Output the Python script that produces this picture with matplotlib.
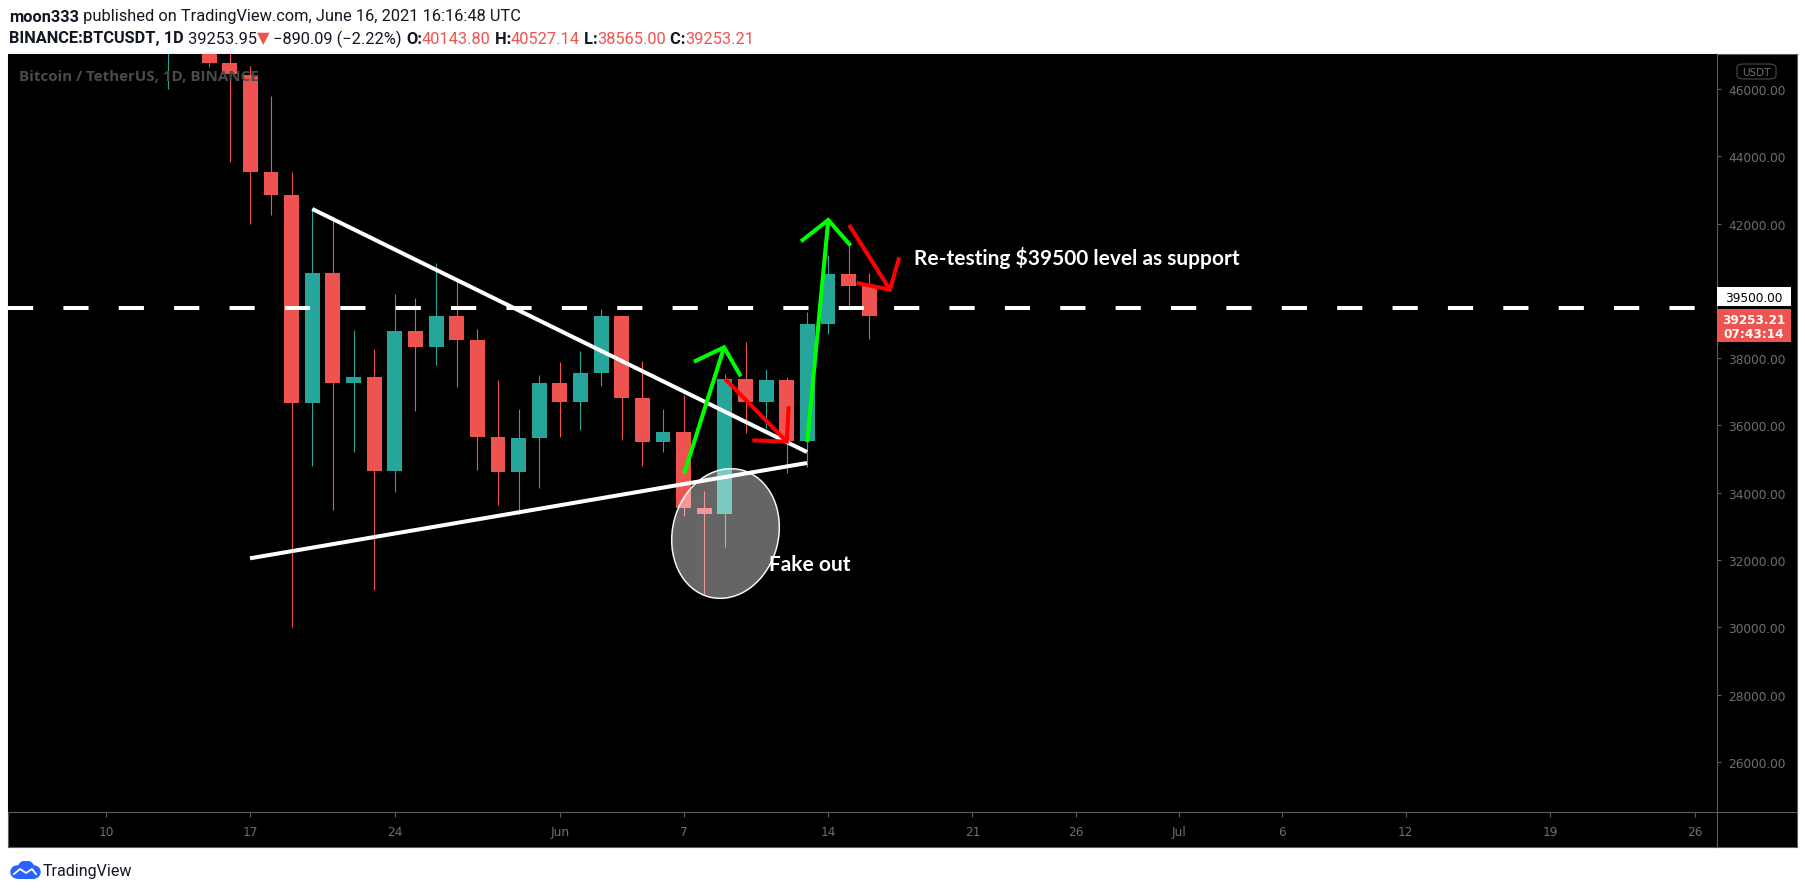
import numpy as np
import matplotlib
matplotlib.use('Agg')
import matplotlib.pyplot as plt
from matplotlib.patches import Ellipse, Rectangle, FancyBboxPatch, Circle
from matplotlib.lines import Line2D
from matplotlib.transforms import ScaledTranslation

# daily candles, BINANCE:BTCUSDT
dates = ['2021-05-13', '2021-05-14', '2021-05-15', '2021-05-16', '2021-05-17', '2021-05-18',
         '2021-05-19', '2021-05-20', '2021-05-21', '2021-05-22', '2021-05-23', '2021-05-24',
         '2021-05-25', '2021-05-26', '2021-05-27', '2021-05-28', '2021-05-29', '2021-05-30',
         '2021-05-31', '2021-06-01', '2021-06-02', '2021-06-03', '2021-06-04', '2021-06-05',
         '2021-06-06', '2021-06-07', '2021-06-08', '2021-06-09', '2021-06-10', '2021-06-11',
         '2021-06-12', '2021-06-13', '2021-06-14', '2021-06-15', '2021-06-16']
opens = [49537, 49671, 49844, 46762, 46426, 43538, 42850, 36671, 40526, 37252, 37449, 34655,
         38796, 38324, 39241, 38529, 35664, 34605, 35641, 37254, 36694, 37568, 39246, 36829,
         35513, 35796, 33552, 33380, 37389, 36694, 37341, 35546, 39020, 40516, 40143.80]
highs = [51367, 51483, 50700, 49795, 46686, 45799, 43546, 42451, 42200, 38831, 38270, 39920,
         39791, 40841, 40300, 38877, 37338, 36488, 37499, 37895, 38225, 39476, 39289, 37916,
         36476, 36900, 34068, 37534, 38490, 37680, 37437, 39380, 41065, 41330, 40527.14]
lows = [46000, 48800, 46650, 43825, 42001, 42250, 30000, 34800, 33488, 35200, 31111, 34031,
        36419, 37800, 37134, 34684, 33633, 33379, 34153, 35666, 35880, 37170, 35556, 34800,
        35200, 33300, 31000, 32397, 35782, 35936, 34600, 34757, 38730, 39506, 38565.00]
closes = [49671, 49841, 46762, 46431, 43538, 42850, 36671, 40526, 37252, 37449, 34655, 38796,
          38324, 39241, 38529, 35664, 34605, 35641, 37254, 36694, 37568, 39246, 36829, 35513,
          35796, 33552, 33380, 37389, 36694, 37341, 35546, 39020, 40516, 40144, 39253.21]

base_date = '2021-05-10'
tick_dates = ['2021-05-10', '2021-05-17', '2021-05-24', '2021-06-01', '2021-06-07', '2021-06-14',
              '2021-06-21', '2021-06-26', '2021-07-01', '2021-07-06', '2021-07-12', '2021-07-19',
              '2021-07-26']
tick_labels = ['10', '17', '24', 'Jun', '7', '14', '21', '26', 'Jul', '6', '12', '19', '26']
price_ticks = [26000, 28000, 30000, 32000, 34000, 36000, 38000, 40000, 42000, 44000, 46000]

support = 39500
# drawings: x in days after base_date, y in price
upper_line_x = [10.0, 33.98]
upper_line_y = [42434, 35212]
lower_line_x = [6.98, 33.98]
lower_line_y = [32053, 34886]
green1_x = [28.02, 29.96, 28.50, 29.96, 30.77]
green1_y = [34559, 38324, 37896, 38324, 37462]
red1_x = [30.00, 33.00, 31.33, 33.00, 33.09]
red1_y = [37391, 35519, 35560, 35519, 36571]
green2_x = [33.99, 35.01, 33.69, 35.01, 36.10]
green2_y = [35506, 42107, 41474, 42107, 41343]
red2_x = [36.02, 38.00, 36.39, 38.00, 38.45]
red2_y = [41958, 40036, 40235, 40036, 40998]
fakeout_x, fakeout_y = 30.03, 32790

W, H = 1805, 895
UP, DOWN = '#26a69a', '#ef5350'
GRID = '#5d5d5d'
LABEL = '#6f6f6f'
DARK = '#131722'


def fx(px):
    return px / W


def fy(py):
    return 1 - py / H


fig = plt.figure(figsize=(W / 100, H / 100), dpi=100, facecolor='white')

# black panel with frame
panel = fig.add_axes([fx(8), fy(848), (1797 - 8) / W, (848 - 55) / H])
panel.set_facecolor('black')
panel.set_xticks([])
panel.set_yticks([])
for s in panel.spines.values():
    s.set_color(GRID)
    s.set_linewidth(0.8)

ax = fig.add_axes([fx(8), fy(813), (1717 - 8) / W, (813 - 55) / H])
ax.set_facecolor('black')
for s in ax.spines.values():
    s.set_visible(False)

x = (np.array(dates, dtype='datetime64[D]') - np.datetime64(base_date)).astype(int)
o, hi, lo, c = map(np.array, (opens, highs, lows, closes))
col = np.where(c >= o, UP, DOWN)
ax.vlines(x, lo, hi, colors=col, lw=0.8, zorder=2)
ax.bar(x, np.maximum(np.abs(c - o), 25), bottom=np.minimum(o, c), width=0.72,
       color=col, linewidth=0, zorder=3)

ax.set_xlim(-4.75, 78.09)
ax.set_ylim(24514, 47040)

tx = (np.array(tick_dates, dtype='datetime64[D]') - np.datetime64(base_date)).astype(int)
ax.set_xticks(tx)
ax.set_xticklabels(tick_labels)
ax.set_yticks(price_ticks)
ax.set_yticklabels(['%.2f' % p for p in price_ticks])
ax.yaxis.tick_right()
ax.tick_params(axis='y', colors=GRID, labelcolor=LABEL, length=3, width=0.8, pad=5, labelsize=8.7)
ax.tick_params(axis='x', colors=GRID, labelcolor=LABEL, length=3.6, width=0.8, pad=6, labelsize=8.7)

# support level
ax.axhline(support, color='white', lw=2.9, dashes=(25 / 4, 30 / 4), dash_capstyle='butt', zorder=5)

# triangle
ax.plot(upper_line_x, upper_line_y, color='white', lw=2.9, solid_capstyle='butt', zorder=5)
ax.plot(lower_line_x, lower_line_y, color='white', lw=2.9, solid_capstyle='butt', zorder=5)

# fake out circle
ell = Ellipse((0, 0), 1.06, 1.31, angle=-14, facecolor=(1, 1, 1, 0.4), edgecolor=(1, 1, 1, 0.95),
              lw=1.1, zorder=4,
              transform=fig.dpi_scale_trans + ScaledTranslation(fakeout_x, fakeout_y, ax.transData))
ax.add_patch(ell)

for xs, ys, colr in [(green1_x, green1_y, '#00ff00'), (red1_x, red1_y, '#ff0000'),
                     (green2_x, green2_y, '#00ff00'), (red2_x, red2_y, '#ff0000')]:
    ax.plot(xs[:2], ys[:2], color=colr, lw=2.9, solid_capstyle='butt', zorder=6)
    ax.plot(xs[2:], ys[2:], color=colr, lw=2.9, solid_capstyle='butt', solid_joinstyle='miter', zorder=6)

ax.text(32.14, 31884, 'Fake out', color='white', fontsize=15, fontweight='bold', family='Lato',
        va='center', ha='left', zorder=7)
ax.text(39.17, 40999, 'Re-testing $39500 level as support', color='white', fontsize=15,
        fontweight='bold', family='Lato', va='center', ha='left', zorder=7)

# separators
fig.add_artist(Line2D([fx(1717), fx(1717)], [fy(55), fy(848)], color=GRID, lw=0.8))
fig.add_artist(Line2D([fx(8), fx(1797)], [fy(813), fy(813)], color=GRID, lw=0.8))

# watermark
fig.text(fx(19), fy(77), 'Bitcoin / TetherUS, 1D, BINANCE', color='#4b4b4b', fontsize=10.9,
         fontweight='bold', family='Open Sans', va='center', ha='left')

# price axis labels
fig.add_artist(FancyBboxPatch((fx(1737), fy(80)), (1776 - 1737) / W, 15 / H,
                              boxstyle='round,pad=0,rounding_size=0.004', facecolor='black',
                              edgecolor='#4a4a4a', lw=0.8, transform=fig.transFigure))
fig.text(fx(1756.5), fy(72.5), 'USDT', color=LABEL, fontsize=7.5, ha='center', va='center')

fig.add_artist(Rectangle((fx(1717), fy(307)), 74 / W, 19 / H, facecolor='white',
                         edgecolor='none', transform=fig.transFigure, zorder=5))
fig.text(fx(1754), fy(298), '%.2f' % support, color='black', fontsize=8.7, ha='center',
         va='center', zorder=6)
fig.add_artist(Rectangle((fx(1717), fy(343)), 74 / W, 33 / H, facecolor=DOWN,
                         edgecolor='none', transform=fig.transFigure, zorder=5))
fig.text(fx(1754), fy(320), '%.2f' % closes[-1], color='white', fontsize=8.7, fontweight='bold',
         ha='center', va='center', zorder=6)
fig.text(fx(1754), fy(335), '07:43:14', color='white', fontsize=8.7, fontweight='bold',
         ha='center', va='center', zorder=6)

# header
renderer = fig.canvas.get_renderer()


def runs(px, py, parts, size):
    for s, colr, weight in parts:
        t = fig.text(fx(px), fy(py), s, color=colr, fontsize=size, fontweight=weight,
                     family=['Roboto', 'DejaVu Sans'], va='center', ha='left')
        px += t.get_window_extent(renderer).width


runs(9, 17, [('moon333', DARK, 'bold'),
             (' published on TradingView.com, June 16, 2021 16:16:48 UTC', DARK, 'normal')], 11.8)
runs(9, 39, [('BINANCE:BTCUSDT, 1D', DARK, 'bold'), (' 39253.95', DARK, 'normal'),
             ('\u25bc', DOWN, 'normal'), (' \u2212890.09 (\u22122.22%) ', DARK, 'normal'),
             ('O:', DARK, 'bold'), ('40143.80', DOWN, 'normal'),
             (' H:', DARK, 'bold'), ('40527.14', DOWN, 'normal'),
             (' L:', DARK, 'bold'), ('38565.00', DOWN, 'normal'),
             (' C:', DARK, 'bold'), ('39253.21', DOWN, 'normal')], 11.8)

# TradingView logo
logo = fig.add_axes([fx(9), fy(880), 32 / W, 18 / H])
logo.set_xlim(0, 32)
logo.set_ylim(0, 18)
logo.axis('off')
for cx, cy, r in [(8, 7, 6), (17, 10, 8), (25, 7, 6)]:
    logo.add_patch(Circle((cx, cy), r, color='#2962ff'))
logo.add_patch(Rectangle((8, 1), 17, 6, color='#2962ff'))
logo.plot([5, 11, 17, 23, 27], [5, 10, 6, 10, 5], color='white', lw=1.3)
fig.text(fx(43), fy(872), 'TradingView', color=DARK, fontsize=11.5, family='Roboto',
         va='center', ha='left')

fig.savefig('out.png', dpi=100, facecolor='white')
